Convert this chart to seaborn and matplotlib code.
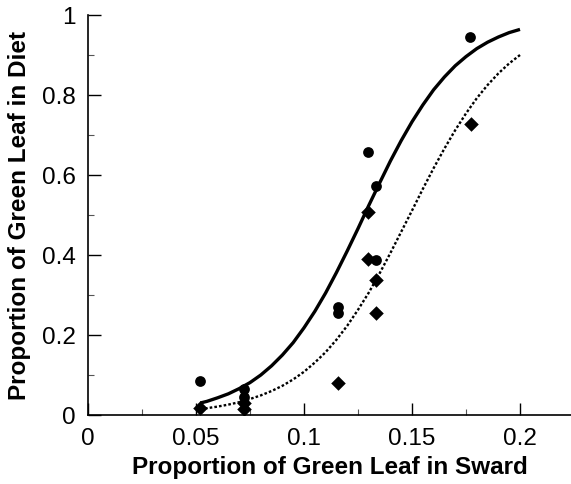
import numpy as np
import pandas as pd
import matplotlib
matplotlib.use("Agg")
import matplotlib.pyplot as plt
from matplotlib.ticker import MultipleLocator
import seaborn as sns

# Observed points
circle_x = [0.052, 0.072, 0.072, 0.1157, 0.1157, 0.1296, 0.1333, 0.1333, 0.1769]
circle_y = [0.085, 0.065, 0.045, 0.270, 0.255, 0.657, 0.573, 0.388, 0.945]
diamond_x = [0.052, 0.072, 0.072, 0.1157, 0.1296, 0.1296, 0.1333, 0.1333, 0.1773]
diamond_y = [0.017, 0.030, 0.015, 0.080, 0.508, 0.390, 0.338, 0.255, 0.728]

# Fitted curves
curve_x = [0.052, 0.055, 0.06, 0.065, 0.07, 0.075, 0.08, 0.085, 0.09, 0.095,
           0.10, 0.105, 0.11, 0.115, 0.12, 0.125, 0.13, 0.135, 0.14, 0.145,
           0.15, 0.155, 0.16, 0.165, 0.17, 0.175, 0.18, 0.185, 0.19, 0.195, 0.20]
solid_y = [0.030, 0.034, 0.043, 0.053, 0.066, 0.081, 0.100, 0.123, 0.150, 0.181,
           0.218, 0.259, 0.305, 0.356, 0.410, 0.466, 0.524, 0.580, 0.635, 0.686,
           0.733, 0.775, 0.813, 0.845, 0.873, 0.896, 0.916, 0.932, 0.945, 0.956, 0.964]
dotted_y = [0.015, 0.017, 0.021, 0.026, 0.032, 0.040, 0.049, 0.060, 0.073, 0.089,
            0.108, 0.131, 0.157, 0.188, 0.223, 0.263, 0.306, 0.354, 0.405, 0.458,
            0.511, 0.565, 0.617, 0.666, 0.712, 0.754, 0.792, 0.825, 0.854, 0.879, 0.900]

x_ticks = [0, 0.05, 0.1, 0.15, 0.2]
x_ticklabels = ["0", "0.05", "0.1", "0.15", "0.2"]
y_ticks = [0, 0.2, 0.4, 0.6, 0.8, 1.0]
y_ticklabels = ["0", "0.2", "0.4", "0.6", "0.8", "1"]

sns.set_style("ticks")
plt.rcParams['font.family'] = ['Liberation Sans', 'DejaVu Sans']

fig = plt.figure(figsize=(5.71, 4.85), dpi=100)
ax = fig.add_axes([88/571, 1 - 416/485, 1 - 88/571, (416 - 16)/485])

curves = pd.DataFrame({"x": curve_x, "solid": solid_y, "dotted": dotted_y})
sns.lineplot(data=curves, x="x", y="solid", ax=ax, color="black", lw=2.4,
             solid_capstyle="butt", solid_joinstyle="round")
sns.lineplot(data=curves, x="x", y="dotted", ax=ax, color="black", lw=1.7,
             linestyle=(0, (1.1, 0.9)))

pts_c = pd.DataFrame({"x": circle_x, "y": circle_y})
pts_d = pd.DataFrame({"x": diamond_x, "y": diamond_y})
sns.scatterplot(data=pts_c, x="x", y="y", ax=ax, marker="o", s=60,
                color="black", edgecolor="black", linewidth=0, zorder=5)
sns.scatterplot(data=pts_d, x="x", y="y", ax=ax, marker="D", s=55,
                color="black", edgecolor="black", linewidth=0, zorder=5)

ax.set_xlim(0, (571 - 88) / 2160)
ax.set_ylim(0, 1)
ax.set_xticks(x_ticks)
ax.set_xticklabels(x_ticklabels)
ax.set_yticks(y_ticks)
ax.set_yticklabels(y_ticklabels)
ax.xaxis.set_minor_locator(MultipleLocator(0.025))
ax.yaxis.set_minor_locator(MultipleLocator(0.1))
ax.tick_params(which="major", direction="in", length=9, width=1,
               labelsize=17.5, pad=9, color="black", labelcolor="black")
ax.tick_params(which="minor", direction="in", length=4.5, width=0.8,
               color="#555555")
for s in ["top", "right"]:
    ax.spines[s].set_visible(False)
for s in ["left", "bottom"]:
    ax.spines[s].set_linewidth(1.2)
    ax.spines[s].set_color("black")

ax.set_xlabel("Proportion of Green Leaf in Sward", fontsize=17.5,
              fontweight="bold", labelpad=4, color="black")
ax.set_ylabel("Proportion of Green Leaf in Diet", fontsize=17.5,
              fontweight="bold", labelpad=8, color="black")

fig.savefig("out.png", dpi=100)
